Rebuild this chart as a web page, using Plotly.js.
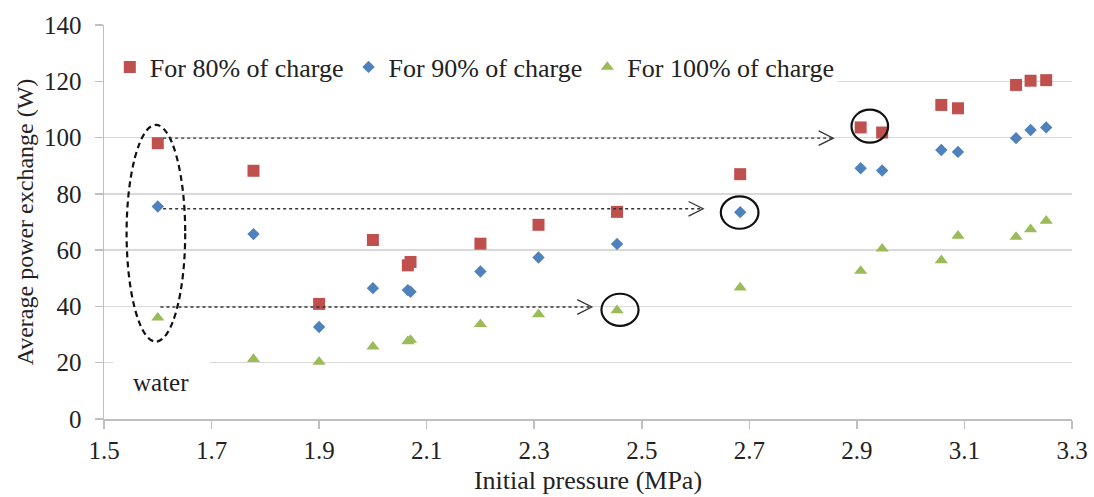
<!DOCTYPE html>
<html>
<head>
<meta charset="utf-8">
<script src="https://cdn.plot.ly/plotly-3.0.1.min.js"></script>
<style>html,body{margin:0;padding:0;background:#fff;}#chart{width:1094px;height:497px;}</style>
</head>
<body>
<div id="chart"></div>
<script>
// Data
const pressure = [1.6, 1.778, 1.9, 2.0, 2.065, 2.07, 2.2, 2.308, 2.454, 2.683, 2.907, 2.947, 3.057, 3.088, 3.196, 3.223, 3.252];
const charge80 = [98.0, 88.2, 40.9, 63.6, 54.6, 55.8, 62.3, 69.0, 73.6, 87.0, 103.6, 101.8, 111.6, 110.4, 118.7, 120.2, 120.4];
const charge90 = [75.5, 65.7, 32.7, 46.5, 45.8, 45.2, 52.4, 57.4, 62.2, 73.5, 89.1, 88.3, 95.6, 94.9, 99.8, 102.7, 103.6];
const charge100 = [36.0, 21.3, 20.3, 25.7, 27.6, 28.1, 33.7, 37.2, 38.6, 46.7, 52.6, 60.5, 56.4, 65.1, 64.7, 67.4, 70.4];
const seriesNames = ["For 80% of charge", "For 90% of charge", "For 100% of charge"];
const xTickVals = [1.5, 1.7, 1.9, 2.1, 2.3, 2.5, 2.7, 2.9, 3.1, 3.3];
const yTickVals = [0, 20, 40, 60, 80, 100, 120, 140];

const FONT = "'Liberation Serif', 'Times New Roman', Times, serif";
const TXT = "#222222";

const traces = [
  {x: pressure, y: charge80, name: seriesNames[0], type: "scatter", mode: "markers",
   marker: {symbol: "square", size: 12, color: "#c0504d"}},
  {x: pressure, y: charge90, name: seriesNames[1], type: "scatter", mode: "markers",
   marker: {symbol: "diamond", size: 9.5, color: "#4f81bd"}},
  {x: pressure, y: charge100, name: seriesNames[2], type: "scatter", mode: "markers",
   marker: {symbol: "triangle-up", size: 11.5, color: "#9bbb59"}}
];

function chevron(xt, yt) {
  const dx = 0.027, dy = 2.6;
  return {type: "path", xref: "x", yref: "y", layer: "above",
    path: `M ${xt - dx},${yt + dy} L ${xt},${yt} L ${xt - dx},${yt - dy}`,
    line: {color: "#333", width: 1.3}};
}
function dashLine(x0, x1, y) {
  return {type: "line", xref: "x", yref: "y", x0: x0, x1: x1, y0: y, y1: y, layer: "above",
    line: {color: "#333", width: 1.3, dash: "3px,3px"}};
}
function ring(x0, x1, y0, y1) {
  return {type: "circle", xref: "x", yref: "y", x0: x0, x1: x1, y0: y0, y1: y1, layer: "above",
    line: {color: "#111", width: 2.2}};
}

const shapes = [
  {type: "rect", xref: "x", yref: "y", x0: 1.485, x1: 2.864, y0: 116.2, y1: 131.9, layer: "between",
   fillcolor: "#ffffff", line: {width: 0}},
  {type: "rect", xref: "x", yref: "y", x0: 1.517, x1: 1.697, y0: 3.5, y1: 24.5, layer: "between",
   fillcolor: "#ffffff", line: {width: 0}},
  {type: "circle", xref: "x", yref: "y", x0: 1.542, x1: 1.651, y0: 27.5, y1: 104.5, layer: "above",
   line: {color: "#111", width: 2.2, dash: "6px,4px"}},
  dashLine(1.61, 2.856, 99.8), chevron(2.856, 99.8),
  dashLine(1.61, 2.614, 74.7), chevron(2.614, 74.7),
  dashLine(1.605, 2.407, 39.8), chevron(2.407, 39.8),
  ring(2.890, 2.958, 98.2, 109.9),
  ring(2.647, 2.717, 67.6, 79.1),
  ring(2.425, 2.494, 33.1, 44.5)
];

const layout = {
  width: 1094, height: 497,
  margin: {l: 104, r: 22, t: 25, b: 78, pad: 0},
  paper_bgcolor: "#ffffff", plot_bgcolor: "#ffffff",
  font: {family: FONT, size: 25, color: TXT},
  showlegend: true,
  legend: {orientation: "h", x: 0.006, y: 0.953, xanchor: "left", yanchor: "top",
    bgcolor: "rgba(255,255,255,0)", borderwidth: 0, font: {family: FONT, size: 26, color: TXT},
    itemwidth: 30, tracegroupgap: 0},
  xaxis: {range: [1.5, 3.3], tickvals: xTickVals, ticktext: xTickVals.map(v => v.toFixed(1)),
    ticks: "outside", ticklen: 8, tickwidth: 1.5, tickcolor: "#bfbfbf",
    showline: true, linecolor: "#bfbfbf", linewidth: 1.5, showgrid: false, zeroline: false,
    tickfont: {family: FONT, size: 25, color: TXT}, ticklabelstandoff: 0,
    title: {text: "Initial pressure (MPa)", font: {family: FONT, size: 26, color: TXT}, standoff: 8}},
  yaxis: {range: [0, 140], tickvals: yTickVals,
    ticks: "outside", ticklen: 8, tickwidth: 1.5, tickcolor: "#bfbfbf",
    showline: true, linecolor: "#bfbfbf", linewidth: 1.5,
    showgrid: true, gridcolor: "#d9d9d9", gridwidth: 1.5, zeroline: false,
    tickfont: {family: FONT, size: 25, color: TXT}, ticklabelstandoff: 8,
    title: {text: "Average power exchange (W)", font: {family: FONT, size: 24, color: TXT}, standoff: 3}},
  shapes: shapes,
  annotations: [
    {x: 1.606, y: 12.9, xref: "x", yref: "y", text: "water", showarrow: false,
     font: {family: FONT, size: 25, color: "#1c1c2c"}, xanchor: "center", yanchor: "middle"}
  ]
};

Plotly.newPlot("chart", traces, layout, {staticPlot: true, displayModeBar: false});
</script>
</body>
</html>
